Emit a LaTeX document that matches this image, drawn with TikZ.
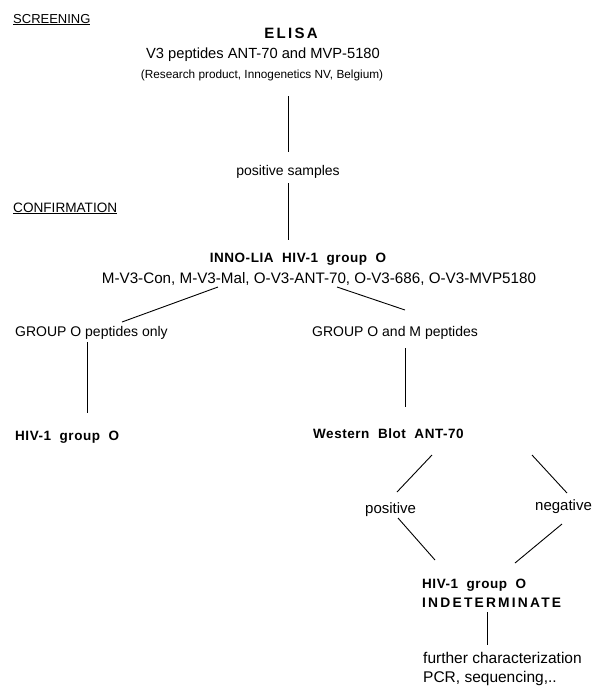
\documentclass[tikz,border=0pt]{standalone}
\usepackage{fontspec}
\setmainfont{Liberation Sans}
\newfontfamily\spacedbold[LetterSpace=4,WordSpace=2]{Liberation Sans Bold}
\newfontfamily\elisabold[LetterSpace=15]{Liberation Sans Bold}
\newfontfamily\indbold[LetterSpace=16]{Liberation Sans Bold}
\begin{document}
\begin{tikzpicture}[x=1pt,y=-1pt,
  txt/.style={inner sep=0pt,font=\fontsize{14}{19}\selectfont},
  small/.style={inner sep=0pt,font=\fontsize{11.8}{14}\selectfont},
  bld/.style={inner sep=0pt,font=\fontsize{13.5}{19}\spacedbold},
  conn/.style={line width=0.9pt}]
\useasboundingbox (0,0) rectangle (607,686);
% texts
\node[txt,anchor=base west,font=\fontsize{13}{19}\selectfont] (scr) at (13,23) {\underline{SCREENING}};
\node[bld,anchor=base,font=\fontsize{15}{19}\elisabold] (elisa) at (291,38) {ELISA};
\node[txt,anchor=base,font=\fontsize{14.7}{19}\selectfont] (v3) at (263,58) {V3 peptides ANT-70 and MVP-5180};
\node[small,anchor=base] (res) at (262,78) {(Research product, Innogenetics NV, Belgium)};
\node[txt,anchor=base] (pos) at (288,175) {positive samples};
\node[txt,anchor=base west,font=\fontsize{13.6}{19}\selectfont] (conf) at (13,212) {\underline{CONFIRMATION}};
\node[bld,anchor=base] (inno) at (298,262) {INNO-LIA HIV-1 group O};
\node[txt,anchor=base,font=\fontsize{15.2}{19}\selectfont] (mv3) at (319,283) {M-V3-Con, M-V3-Mal, O-V3-ANT-70, O-V3-686, O-V3-MVP5180};
\node[txt,anchor=base west] (go) at (15,336) {GROUP O peptides only};
\node[txt,anchor=base west] (gom) at (312,336) {GROUP O and M peptides};
\node[bld,anchor=base west] (hiv) at (15,440) {HIV-1 group O};
\node[bld,anchor=base west] (wb) at (313,438) {Western Blot ANT-70};
\node[txt,anchor=base west,font=\fontsize{15}{19}\selectfont] (posi) at (365,513) {positive};
\node[txt,anchor=base west,font=\fontsize{15}{19}\selectfont] (nega) at (535,510) {negative};
\node[bld,anchor=base west,align=left] (ind) at (422,607) {HIV-1 group O\\{\fontsize{13.8}{19}\indbold INDETERMINATE}};
\node[txt,anchor=base west,align=left,font=\fontsize{15.5}{19}\selectfont] (fur) at (423,682) {further characterization\\PCR, sequencing,..};
% connector end points
\coordinate (a1) at (288,96);  \coordinate (a2) at (288,152);
\coordinate (b1) at (288,183); \coordinate (b2) at (288,240);
\coordinate (c1) at (218,287); \coordinate (c2) at (122,322);
\coordinate (d1) at (337,287); \coordinate (d2) at (405,310);
\coordinate (e1) at (87,342);  \coordinate (e2) at (87,413);
\coordinate (f1) at (405,348); \coordinate (f2) at (405,407);
\coordinate (g1) at (432,455); \coordinate (g2) at (397,492);
\coordinate (h1) at (532,455); \coordinate (h2) at (567,493);
\coordinate (i1) at (398,518); \coordinate (i2) at (435,560);
\coordinate (j1) at (562,524); \coordinate (j2) at (515,563);
\coordinate (k1) at (487,612); \coordinate (k2) at (487,645);
\draw[conn] (a1) -- (a2);
\draw[conn] (b1) -- (b2);
\draw[conn] (c1) -- (c2);
\draw[conn] (d1) -- (d2);
\draw[conn] (e1) -- (e2);
\draw[conn] (f1) -- (f2);
\draw[conn] (g1) -- (g2);
\draw[conn] (h1) -- (h2);
\draw[conn] (i1) -- (i2);
\draw[conn] (j1) -- (j2);
\draw[conn] (k1) -- (k2);
\end{tikzpicture}
\end{document}
